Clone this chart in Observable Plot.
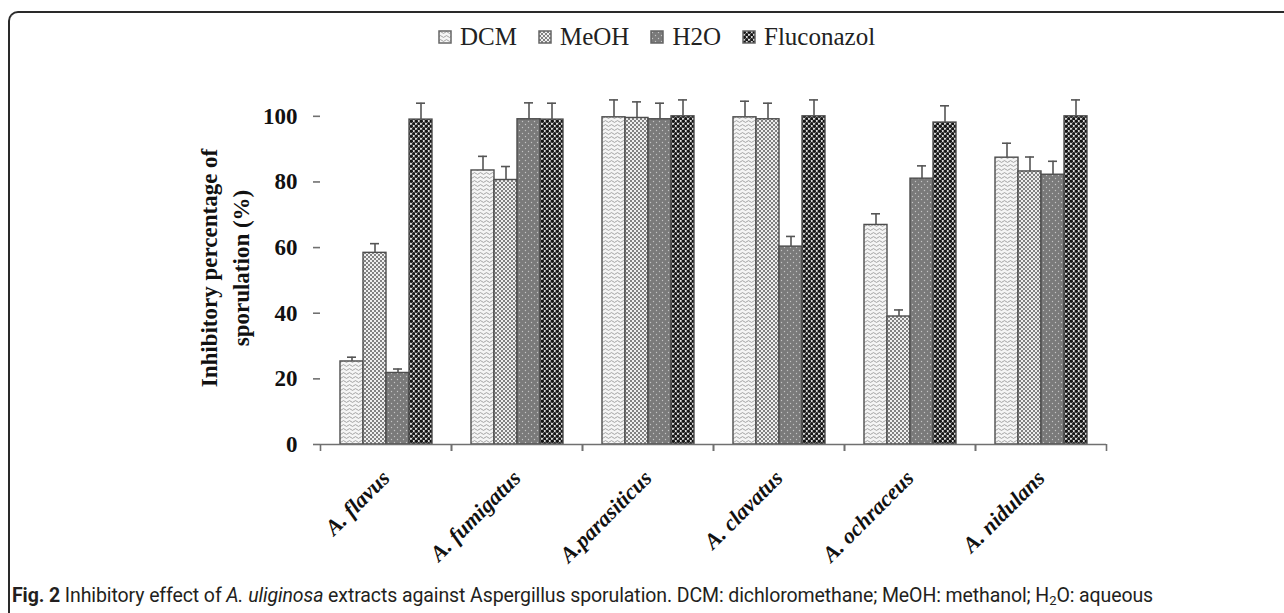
<!DOCTYPE html>
<html><head><meta charset="utf-8">
<script src="https://cdn.jsdelivr.net/npm/d3@7"></script>
<script src="https://cdn.jsdelivr.net/npm/@observablehq/plot@0.6"></script>
<style>
html,body{margin:0;padding:0;background:#fff;}
#page{position:relative;width:1284px;height:613px;overflow:hidden;background:#fff;}
#frame{position:absolute;left:8px;top:11px;width:1400px;height:700px;border-top:2px solid #2a2a2a;border-left:2px solid #2a2a2a;border-top-left-radius:10px;box-sizing:border-box;}
#legend{position:absolute;left:439px;top:20px;}
#legend .lg-swatches{font-family:"Liberation Serif",serif !important;font-size:25px !important;color:#222 !important;min-height:33px;}
#legend .lg-swatch{margin-right:22px !important;}
#legend .lg-swatch > svg{margin-right:9px !important;}
#legend .lg-swatch rect{stroke:#666;stroke-width:1.5;}
#chart{position:absolute;left:0;top:60px;}
#caption{position:absolute;left:12px;top:584px;font-family:Roboto,sans-serif;font-size:19.5px;color:#231f20;white-space:nowrap;letter-spacing:-0.1px;}
#caption sub{font-size:13px;vertical-align:-3px;line-height:0;}
</style></head>
<body>
<svg width="0" height="0" style="position:absolute">
<defs>
  <pattern id="pDCM" patternUnits="userSpaceOnUse" width="6" height="4">
    <rect width="6" height="4" fill="#f5f5f5"/>
    <path d="M0 1.5 L1.5 0.6 L3 1.5 L4.5 2.4 L6 1.5" fill="none" stroke="#959595" stroke-width="0.85"/>
  </pattern>
  <pattern id="pMeOH" patternUnits="userSpaceOnUse" width="4" height="4">
    <rect width="4" height="4" fill="#efefef"/>
    <circle cx="1" cy="1" r="1" fill="#5e5e5e"/>
    <circle cx="3" cy="3" r="1" fill="#5e5e5e"/>
  </pattern>
  <pattern id="pH2O" patternUnits="userSpaceOnUse" width="6" height="6">
    <rect width="6" height="6" fill="#7a7a7a"/>
    <circle cx="1.5" cy="1.5" r="0.7" fill="#c4c4c4"/>
    <circle cx="4.5" cy="4.5" r="0.7" fill="#c4c4c4"/>
  </pattern>
  <pattern id="pFluc" patternUnits="userSpaceOnUse" width="5" height="5">
    <rect width="5" height="5" fill="#d8d8d8"/>
    <circle cx="1.25" cy="1.25" r="1.7" fill="#151515"/>
    <circle cx="3.75" cy="3.75" r="1.7" fill="#151515"/>
    <circle cx="6.25" cy="1.25" r="1.7" fill="#151515"/>
    <circle cx="1.25" cy="6.25" r="1.7" fill="#151515"/>
  </pattern>
</defs>
</svg>
<div id="page">
  <div id="frame"></div>
  <div id="legend"></div>
  <div id="chart"></div>
  <div id="caption"><b>Fig. 2</b> Inhibitory effect of <i>A. uliginosa</i> extracts against Aspergillus sporulation. DCM: dichloromethane; MeOH: methanol; H<sub>2</sub>O: aqueous</div>
</div>
<script>
const species = ["A. flavus", "A. fumigatus", "A.parasiticus", "A. clavatus", "A. ochraceus", "A. nidulans"];
const extracts = ["DCM", "MeOH", "H2O", "Fluconazol"];
const dcm      = [25.3, 83.5, 99.7, 99.7, 66.9, 87.4];
const dcmErr   = [1.3, 4.3, 5.3, 4.9, 3.4, 4.4];
const meoh     = [58.4, 80.6, 99.5, 99.1, 39.0, 83.2];
const meohErr  = [2.8, 4.1, 4.9, 4.9, 2.0, 4.4];
const h2o      = [21.8, 99.1, 99.1, 60.3, 81.0, 82.2];
const h2oErr   = [1.2, 5.0, 4.9, 3.1, 3.9, 4.1];
const fluc     = [99.0, 99.0, 100.0, 100.0, 98.1, 100.0];
const flucErr  = [5.0, 5.0, 5.0, 5.0, 5.1, 5.0];
const yTicks = [0, 20, 40, 60, 80, 100];
const yTitle = "Inhibitory percentage of\nsporulation (%)";
const fills = ["url(#pDCM)", "url(#pMeOH)", "url(#pH2O)", "url(#pFluc)"];

const seriesVals = [dcm, meoh, h2o, fluc];
const seriesErr = [dcmErr, meohErr, h2oErr, flucErr];
const rows = [];
species.forEach((s, i) => extracts.forEach((e, j) => {
  rows.push({species: s, extract: e, value: seriesVals[j][i], err: seriesErr[j][i]});
}));

const axisStroke = "#707070";
const chart = Plot.plot({
  width: 1284, height: 525,
  marginTop: 23, marginBottom: 141, marginLeft: 320, marginRight: 178,
  style: {fontFamily: "Liberation Serif", color: "#111", background: "transparent"},
  fx: {domain: species, padding: 0},
  x: {domain: extracts, paddingInner: 0, paddingOuter: 0.73, axis: null},
  y: {domain: [0, 110]},
  color: {domain: extracts, range: fills},
  marks: [
    Plot.barY(rows, {fx: "species", x: "extract", y: "value", fill: "extract", stroke: "#4d4d4d", strokeWidth: 1.4}),
    Plot.ruleX(rows, {fx: "species", x: "extract", y1: "value", y2: d => d.value + d.err, stroke: "#555", strokeWidth: 1.6}),
    Plot.tickY(rows, {fx: "species", x: "extract", y: d => d.value + d.err, insetLeft: 7, insetRight: 7, stroke: "#555", strokeWidth: 1.6}),
    Plot.ruleY([0], {stroke: axisStroke, strokeWidth: 1.6}),
    Plot.axisY({ticks: yTicks, tickSize: 7, tickPadding: 16, tickFormat: d => d, fontSize: 23, fontWeight: "bold", label: null, line: true, stroke: axisStroke, strokeWidth: 1.6, fill: "#111"}),
    Plot.axisFx({anchor: "bottom", tickSize: 7, tickFormat: () => "", dx: 65.5, label: null, stroke: axisStroke, strokeWidth: 1.6}),
    Plot.axisFx({anchor: "bottom", tickSize: 7, tickFormat: () => "", dx: -65.5, label: null, stroke: axisStroke, strokeWidth: 1.6}),
    Plot.axisFx({anchor: "bottom", tickSize: 0, tickPadding: 30, tickRotate: -45, fontSize: 22, fontWeight: "bold", fontStyle: "italic", label: null, fill: "#111"}),
    Plot.text([yTitle], {fx: () => species[0], frameAnchor: "left", rotate: -90, dx: -98, dy: 4, fontSize: 23, fontWeight: "bold", lineHeight: 1.4, textAnchor: "middle", fill: "#111"})
  ]
});
document.getElementById("chart").appendChild(chart);

const legend = Plot.legend({color: {type: "ordinal", domain: extracts, range: fills}, swatchSize: 12, className: "lg"});
document.getElementById("legend").appendChild(legend);
</script>
</body></html>
